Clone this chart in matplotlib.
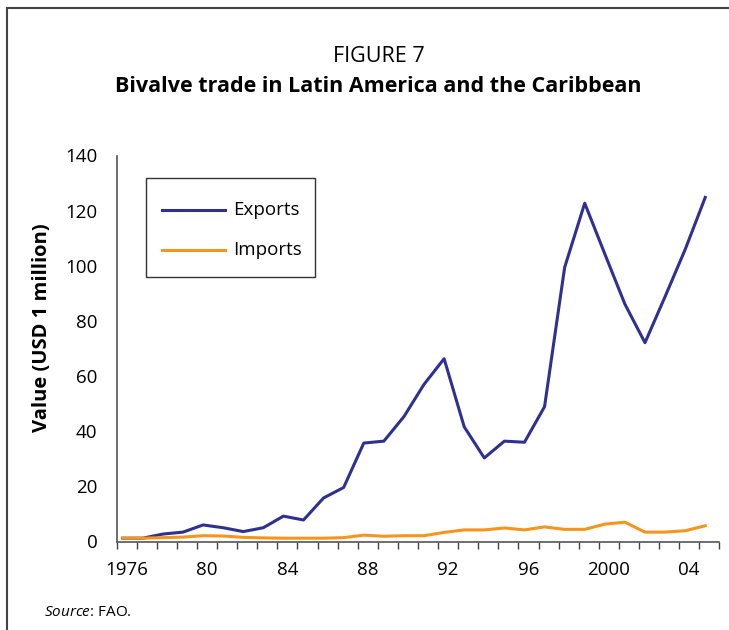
import matplotlib
matplotlib.use("Agg")
import matplotlib.pyplot as plt
from matplotlib.lines import Line2D
from matplotlib.patches import Rectangle
from matplotlib.ticker import FixedLocator, NullFormatter

plt.rcParams['font.family'] = ['Open Sans', 'DejaVu Sans']
plt.rcParams['mathtext.fontset'] = 'custom'
plt.rcParams['mathtext.it'] = 'Open Sans:italic'
plt.rcParams['mathtext.rm'] = 'Open Sans'

years = list(range(1976, 2006))
exports = [1.2, 1.2, 2.7, 3.4, 6.0, 5.0, 3.6, 5.0, 9.2, 7.8,
           15.8, 19.6, 35.7, 36.4, 45.3, 57.0, 66.3, 41.6, 30.3, 36.4,
           36.0, 48.9, 99.4, 122.7, 104.3, 86.1, 72.1, 88.8, 105.9, 124.8]
imports = [1.2, 1.2, 1.4, 1.6, 2.1, 2.0, 1.5, 1.3, 1.2, 1.2,
           1.2, 1.4, 2.3, 1.9, 2.1, 2.1, 3.3, 4.2, 4.2, 4.9,
           4.2, 5.3, 4.4, 4.4, 6.3, 7.0, 3.4, 3.4, 3.9, 5.7]
tick_labels = ['1976', '80', '84', '88', '92', '96', '2000', '04']
label_years = [1976, 1980, 1984, 1988, 1992, 1996, 2000, 2004]
yticks = [0, 20, 40, 60, 80, 100, 120, 140]

EXP_COLOR = '#2E3192'
IMP_COLOR = '#F7941D'

W, H = 729, 630
fig = plt.figure(figsize=(W / 100, H / 100), dpi=100)

def fx(px):
    return px / W

def fy(py):
    return 1 - py / H

# frame (left and top edges visible)
fig.add_artist(Line2D([fx(6.5), fx(6.5)], [fy(8), 0], transform=fig.transFigure,
                      color='#444444', linewidth=1.5))
fig.add_artist(Line2D([fx(6.5), 1], [fy(8), fy(8)], transform=fig.transFigure,
                      color='#444444', linewidth=1.5))

AX_L, AX_R, AX_B, AX_T = 116.7, 719.3, 541.5, 155.5
ax = fig.add_axes([fx(AX_L), fy(AX_B), (AX_R - AX_L) / W, (AX_B - AX_T) / H])

x0 = years[0]
xs = [y - x0 + 0.3 for y in years]
ax.plot(xs, exports, color=EXP_COLOR, linewidth=2.2, label='Exports')
ax.plot(xs, imports, color=IMP_COLOR, linewidth=2.2, label='Imports')

ax.set_xlim(0, len(years))
ax.set_ylim(0, 140)

for s in ['top', 'right']:
    ax.spines[s].set_visible(False)
for s in ['left', 'bottom']:
    ax.spines[s].set_color('#555555')
    ax.spines[s].set_linewidth(1.2)

ax.xaxis.set_major_locator(FixedLocator(range(0, len(years) + 1)))
ax.xaxis.set_major_formatter(NullFormatter())
ax.xaxis.set_minor_locator(FixedLocator([y - x0 + 0.5 for y in label_years]))
ax.set_xticklabels(tick_labels, minor=True)
ax.tick_params(axis='x', which='major', direction='out', length=5, width=1, color='#444444')
ax.tick_params(axis='x', which='minor', length=0, pad=14, labelsize=13.5)

ax.set_yticks(yticks)
ax.set_yticklabels([str(v) for v in yticks])
ax.tick_params(axis='y', which='major', length=0, pad=14, labelsize=13.5)

fig.text(fx(42), fy(328), 'Value (USD 1 million)', rotation=90, ha='center', va='center',
         fontsize=14.5, fontweight='bold')

# legend box drawn in axes coordinates
def ax_x(px):
    return (px - AX_L) / (AX_R - AX_L)

def ax_y(py):
    return (AX_B - py) / (AX_B - AX_T)

ax.add_patch(Rectangle((ax_x(146), ax_y(277)), ax_x(315) - ax_x(146), ax_y(177.5) - ax_y(277),
                       transform=ax.transAxes, fill=True, facecolor='white',
                       edgecolor='#333333', linewidth=1.0, zorder=5))
for py, col, lab in [(210, EXP_COLOR, 'Exports'), (250, IMP_COLOR, 'Imports')]:
    ax.add_line(Line2D([ax_x(162), ax_x(225)], [ax_y(py), ax_y(py)], transform=ax.transAxes,
                       color=col, linewidth=2.2, zorder=6))
    ax.text(ax_x(233), ax_y(py), lab, transform=ax.transAxes, ha='left', va='center',
            fontsize=13.5, zorder=6)

fig.text(fx(379), fy(56), 'FIGURE 7', ha='center', va='center', fontsize=15.5)
fig.text(fx(378), fy(86), 'Bivalve trade in Latin America and the Caribbean',
         ha='center', va='center', fontsize=15.5, fontweight='bold')
fig.text(fx(44.5), fy(612), r'$\mathit{Source}$: FAO.', ha='left', va='center', fontsize=11)

fig.savefig('out.png', dpi=100)
